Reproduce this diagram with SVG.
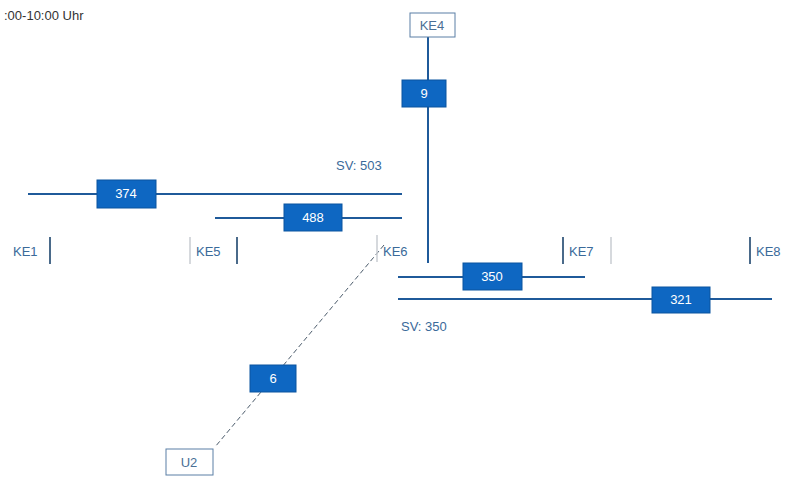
<svg xmlns="http://www.w3.org/2000/svg" width="797" height="477" viewBox="0 0 797 477">
<style>
text{font-family:"Liberation Sans",Arial,sans-serif;font-size:13px}
.lbl{fill:#3a6a9a}
.bx text{fill:#fff;text-anchor:middle}
.bx rect{fill:#0e67c2;stroke:#0a559f;stroke-width:1}
.ln{stroke:#1f5a9a;stroke-width:2;fill:none}
.node rect{fill:#fff;stroke:#5a7fa5;stroke-width:1}
.node text{fill:#4a6f95;text-anchor:middle}
.barL{stroke:#c8ccd2;stroke-width:1.5}
.barR{stroke:#4a6a8a;stroke-width:2}
</style>
<rect width="797" height="477" fill="#fff"/>
<text x="4" y="20" fill="#333">:00-10:00 Uhr</text>
<g id="connectors">
<line class="ln" x1="428" y1="37" x2="428" y2="263"/>
<line class="ln" x1="28" y1="194" x2="402" y2="194"/>
<line class="ln" x1="215" y1="218" x2="402" y2="218"/>
<line class="ln" x1="398" y1="277" x2="585" y2="277"/>
<line class="ln" x1="398" y1="299" x2="772" y2="299" stroke-width="3"/>
<line x1="384" y1="245" x2="215" y2="447" stroke="#4a5a6a" stroke-width="1" stroke-dasharray="5,3"/>
</g>
<g id="KE4" class="node"><rect x="410" y="13" width="45" height="24"/><text x="432" y="30">KE4</text></g>
<g id="U2" class="node"><rect x="166" y="449" width="47" height="26"/><text x="189" y="467">U2</text></g>
<g id="e9" class="bx"><rect x="402" y="80" width="44" height="27"/><text x="424" y="98">9</text></g>
<g id="e374" class="bx"><rect x="97" y="180" width="59" height="28"/><text x="126" y="198">374</text></g>
<g id="e488" class="bx"><rect x="284" y="204" width="58" height="27"/><text x="313" y="222">488</text></g>
<g id="e350" class="bx"><rect x="463" y="263" width="59" height="27"/><text x="492" y="281">350</text></g>
<g id="e321" class="bx"><rect x="652" y="287" width="58" height="26"/><text x="681" y="304">321</text></g>
<g id="e6" class="bx"><rect x="250" y="365" width="46" height="27"/><text x="273" y="383">6</text></g>
<text class="lbl" x="336" y="170">SV: 503</text>
<text class="lbl" x="401" y="331">SV: 350</text>
<g id="KE1"><text class="lbl" x="13" y="256">KE1</text><line class="barR" x1="50" y1="237" x2="50" y2="264"/></g>
<g id="KE5"><line class="barL" x1="190" y1="237" x2="190" y2="264"/><text class="lbl" x="196" y="256">KE5</text><line class="barR" x1="237" y1="237" x2="237" y2="264"/></g>
<g id="KE6"><line class="barL" x1="377" y1="235" x2="377" y2="262"/><text class="lbl" x="383" y="256">KE6</text></g>
<g id="KE7"><line class="barR" x1="563" y1="237" x2="563" y2="264"/><text class="lbl" x="569" y="256">KE7</text><line class="barL" x1="611" y1="237" x2="611" y2="264"/></g>
<g id="KE8"><line class="barR" x1="750" y1="237" x2="750" y2="264"/><text class="lbl" x="756" y="256">KE8</text></g>
</svg>
